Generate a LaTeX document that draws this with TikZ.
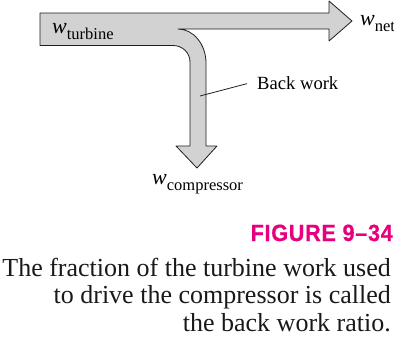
\documentclass[tikz,border=0pt]{standalone}
\usepackage{fontspec}
\setmainfont{Liberation Serif}
\newfontfamily\figfont[FakeStretch=0.92,LetterSpace=3,FakeBold=0.6]{Liberation Sans Bold}
\definecolor{figmag}{RGB}{230,0,126}
\definecolor{arrowgray}{RGB}{210,210,210}
\definecolor{edgegray}{RGB}{30,30,30}
\tikzset{
  lbl/.style={inner sep=0pt, anchor=base west, font=\fontsize{22}{22}\selectfont},
  captionline/.style={inner sep=0pt, anchor=base east, font=\fontsize{26}{28}\selectfont, text=black!90},
  flowarrow/.style={draw=edgegray, line width=0.8pt, fill=arrowgray, line join=round},
}
\newcommand{\wsub}[1]{\textit{w}\raisebox{-6pt}{\fontsize{16.5}{16.5}\selectfont #1}}
\begin{document}
\begin{tikzpicture}[x=1pt,y=-1pt]
\useasboundingbox (0,0) rectangle (394,341);
% the bent flow arrow
\path[flowarrow]
  (40,13) -- (329,13) -- (329,1) -- (352,21) -- (329,41) -- (329,29) -- (178,29)
  .. controls (193.4,29) and (206,44.3) .. (206,63)
  -- (206,146) -- (217,146) -- (197,168) -- (176,146) -- (190,146)
  -- (190,62) .. controls (190,52.6) and (182.4,45.5) .. (173,45.5)
  -- (40,45.5) -- cycle;
% labels
\node[lbl] (wt) at (52,33) {\wsub{turbine}};
\node[lbl] (wn) at (360,25) {\wsub{net}};
\node[lbl] (wc) at (152,184) {\wsub{compressor}};
\node[lbl, font=\fontsize{18.6}{18.6}\selectfont] (bw) at (257,89) {Back work};
\coordinate (bwpt) at (200,96);
\draw[edgegray, line width=0.8pt] (bwpt) -- ([xshift=-10pt,yshift=-1pt]bw.west);
% caption
\node[inner sep=0pt, anchor=base east, text=figmag, font=\figfont\fontsize{23.5}{23.5}\selectfont] (fig) at (393,241) {FIGURE 9–34};
\node[captionline] (c1) at (391,276) {The fraction of the turbine work used};
\node[captionline] (c2) at (391,303.5) {to drive the compressor is called};
\node[captionline] (c3) at (391,331) {the back work ratio.};
\end{tikzpicture}
\end{document}
